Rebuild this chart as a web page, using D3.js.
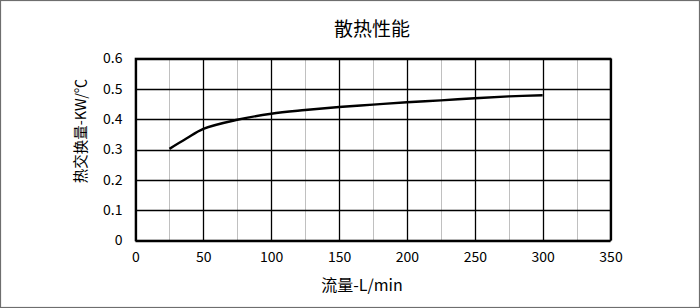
<!DOCTYPE html>
<html><head><meta charset="utf-8">
<script src="https://cdn.jsdelivr.net/npm/d3@7"></script>
<style>body{margin:0;background:#fff;}svg{display:block;}</style>
</head><body>
<svg id="c" width="700" height="308"></svg>
<script>
const title = "散热性能";
const xTitle = "流量-L/min";
const yTitle = "热交换量-KW/℃";
const flow = [25, 37.5, 50, 75, 100, 125, 150, 175, 200, 225, 250, 275, 300];
const heat = [0.302, 0.336, 0.368, 0.398, 0.418, 0.430, 0.440, 0.448, 0.456, 0.462, 0.469, 0.475, 0.479];
const xTicks = [0, 50, 100, 150, 200, 250, 300, 350];
const xMinorTicks = [25, 75, 125, 175, 225, 275, 325];
const yTicks = [0, 0.1, 0.2, 0.3, 0.4, 0.5, 0.6];

const svg = d3.select("#c");
const font = "'Noto Sans CJK SC', 'Liberation Sans', sans-serif";
svg.append("rect").attr("x",0.5).attr("y",0.5).attr("width",699).attr("height",307)
  .attr("fill","#fff").attr("stroke","#6e6e6e").attr("stroke-width",1.2);

const L=135.5, R=610.5, T=58.5, B=240.5;
const x = d3.scaleLinear().domain([0,350]).range([L,R]);
const y = d3.scaleLinear().domain([0,0.6]).range([B,T]);

const g = svg.append("g");
g.selectAll(".mv").data(xMinorTicks).join("line")
  .attr("x1",d=>Math.round(x(d))+0.5).attr("x2",d=>Math.round(x(d))+0.5)
  .attr("y1",T).attr("y2",B).attr("stroke","#c0c0c0").attr("stroke-width",1);
g.selectAll(".v").data(xTicks).join("line")
  .attr("x1",d=>Math.round(x(d))+0.5).attr("x2",d=>Math.round(x(d))+0.5)
  .attr("y1",T).attr("y2",B).attr("stroke","#000").attr("stroke-width",1.3);
g.selectAll(".h").data(yTicks).join("line")
  .attr("x1",L).attr("x2",R)
  .attr("y1",d=>Math.round(y(d))+0.5).attr("y2",d=>Math.round(y(d))+0.5)
  .attr("stroke","#000").attr("stroke-width",1.3);
g.append("rect").attr("x",L).attr("y",T).attr("width",R-L).attr("height",B-T)
  .attr("fill","none").attr("stroke","#000").attr("stroke-width",1.6);

const xAxis = d3.axisBottom(x).tickValues(xTicks).tickSize(0).tickPadding(12).tickFormat(d3.format("d"));
const xa = svg.append("g").attr("transform",`translate(0,${B})`).call(xAxis);
xa.select(".domain").remove();
xa.selectAll("text").attr("font-family",font).attr("font-size",14).attr("fill","#000");

const yAxis = d3.axisLeft(y).tickValues(yTicks).tickSize(0).tickPadding(13).tickFormat(d=>d===0?"0":d3.format(".1f")(d));
const ya = svg.append("g").attr("transform",`translate(${L},0)`).call(yAxis);
ya.select(".domain").remove();
ya.selectAll("text").attr("font-family",font).attr("font-size",14).attr("fill","#000");

const line = d3.line().x((d,i)=>x(flow[i])).y(d=>y(d)).curve(d3.curveCatmullRom.alpha(0.5));
svg.append("path").datum(heat).attr("d",line).attr("fill","none")
  .attr("stroke","#000").attr("stroke-width",2.4).attr("stroke-linejoin","round");

svg.append("text").attr("x",372).attr("y",36).attr("text-anchor","middle")
  .attr("font-family",font).attr("font-size",19).attr("fill","#000").text(title);
svg.append("text").attr("x",362).attr("y",291).attr("text-anchor","middle")
  .attr("font-family",font).attr("font-size",16).attr("fill","#000").text(xTitle);
svg.append("text").attr("transform","translate(86,131) rotate(-90)").attr("text-anchor","middle")
  .attr("font-family",font).attr("font-size",14.5).attr("fill","#000").text(yTitle);
</script>
</body></html>
